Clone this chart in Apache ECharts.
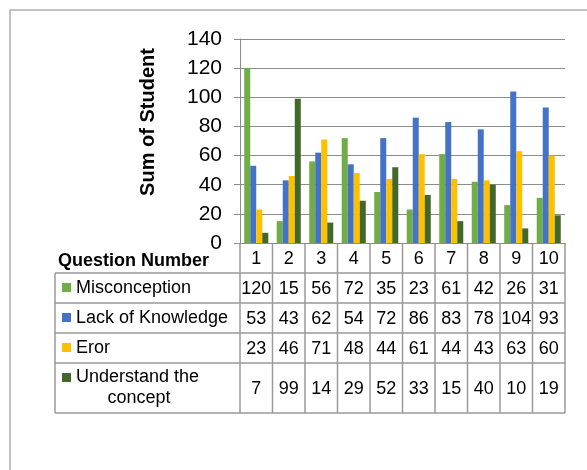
<!DOCTYPE html>
<html>
<head>
<meta charset="utf-8">
<script src="https://cdn.jsdelivr.net/npm/echarts@6/dist/echarts.min.js"></script>
<style>
html,body{margin:0;padding:0;background:#fff;}
#chart{width:587px;height:470px;}
</style>
</head>
<body>
<div id="chart"></div>
<script>
// data
var questions = ['1','2','3','4','5','6','7','8','9','10'];
var misconception = [120,15,56,72,35,23,61,42,26,31];
var lackOfKnowledge = [53,43,62,54,72,86,83,78,104,93];
var eror = [23,46,71,48,44,61,44,43,63,60];
var understand = [7,99,14,29,52,33,15,40,10,19];
var seriesNames = ['Misconception','Lack of Knowledge','Eror','Understand the concept'];
var yTicks = [0,20,40,60,80,100,120,140];

var seriesData = [misconception, lackOfKnowledge, eror, understand];
var colors = ['#70ad47','#4472c4','#ffc000','#43682b'];
var font = 'Arial, "Liberation Sans", sans-serif';
var gridColor = '#8c8c8c';
var tableColor = '#9a9a9a';

var chart = echarts.init(document.getElementById('chart'));

chart.setOption({
  animation: false,
  grid: { left: 240, right: 22, top: 39, bottom: 227 },
  xAxis: {
    type: 'category',
    data: questions,
    axisLine: { lineStyle: { color: gridColor, width: 1 } },
    axisTick: { show: false },
    axisLabel: { show: false }
  },
  yAxis: {
    type: 'value',
    min: yTicks[0],
    max: yTicks[yTicks.length - 1],
    interval: yTicks[1] - yTicks[0],
    axisLine: { show: true, lineStyle: { color: gridColor } },
    axisTick: { show: true, length: 6, lineStyle: { color: gridColor } },
    axisLabel: { color: '#000', fontSize: 21, fontFamily: font, margin: 18 },
    splitLine: { lineStyle: { color: gridColor, width: 1 } }
  },
  series: seriesNames.map(function (name, i) {
    return {
      name: name,
      type: 'bar',
      data: seriesData[i],
      barGap: '0%',
      barCategoryGap: '26%',
      itemStyle: { color: colors[i] }
    };
  })
});

// data table under the axis
var x0 = chart.convertToPixel({ xAxisIndex: 0 }, questions[0]);
var x1 = chart.convertToPixel({ xAxisIndex: 0 }, questions[1]);
var band = x1 - x0;
var tLeft = x0 - band / 2;
var tRight = tLeft + band * questions.length;
var yZero = chart.convertToPixel({ yAxisIndex: 0 }, 0);
var rowH = [30, 30, 30, 30, 50];
var keyLeft = 55;

var rowTop = [yZero];
rowH.forEach(function (h, i) { rowTop.push(rowTop[i] + h); });
var tBottom = rowTop[rowTop.length - 1];

var g = [];
function line(xa, ya, xb, yb) {
  g.push({ type: 'line', shape: { x1: xa, y1: ya, x2: xb, y2: yb },
    style: { stroke: tableColor, lineWidth: 1.5 }, silent: true });
}
function text(str, x, y, align, size, bold) {
  g.push({ type: 'text', x: x, y: y, silent: true,
    style: { text: str, fill: '#000', font: (bold ? 'bold ' : '') + size + 'px ' + font,
      align: align, verticalAlign: 'middle' } });
}

// outer chart border
g.push({ type: 'rect', shape: { x: 10, y: 10, width: 700, height: 600 },
  style: { fill: null, stroke: '#b0b0b0', lineWidth: 1.5 }, silent: true });

// horizontal rules
for (var r = 1; r < rowTop.length; r++) line(keyLeft, rowTop[r], tRight, rowTop[r]);
// vertical rules
for (var c = 0; c <= questions.length; c++) line(tLeft + band * c, yZero, tLeft + band * c, tBottom);
line(keyLeft, rowTop[1], keyLeft, tBottom);

// header
text('Question Number', 209, rowTop[0] + 18, 'right', 18, true);
questions.forEach(function (q, i) {
  text(q, tLeft + band * (i + 0.5), (rowTop[0] + rowTop[1]) / 2 + 1, 'center', 18, false);
});

// series rows
seriesNames.forEach(function (name, s) {
  var top = rowTop[s + 1], bottom = rowTop[s + 2];
  var cy = (top + bottom) / 2;
  if (s === 3) {
    g.push({ type: 'rect', shape: { x: 62, y: top + 10, width: 9, height: 9 },
      style: { fill: colors[s] }, silent: true });
    text('Understand the', 76, top + 14, 'left', 18, false);
    text('concept', 139, top + 35, 'center', 18, false);
  } else {
    g.push({ type: 'rect', shape: { x: 62, y: cy - 5, width: 9, height: 9 },
      style: { fill: colors[s] }, silent: true });
    text(name, 76, cy, 'left', 18, false);
  }
  seriesData[s].forEach(function (v, i) {
    text(String(v), tLeft + band * (i + 0.5), cy + 1, 'center', 18, false);
  });
});

// y axis title
g.push({ type: 'text', x: 148, y: 122, rotation: Math.PI / 2, silent: true,
  style: { text: 'Sum of Student', fill: '#000', font: 'bold 20px ' + font,
    align: 'center', verticalAlign: 'middle' } });

chart.setOption({ graphic: g });
</script>
</body>
</html>
